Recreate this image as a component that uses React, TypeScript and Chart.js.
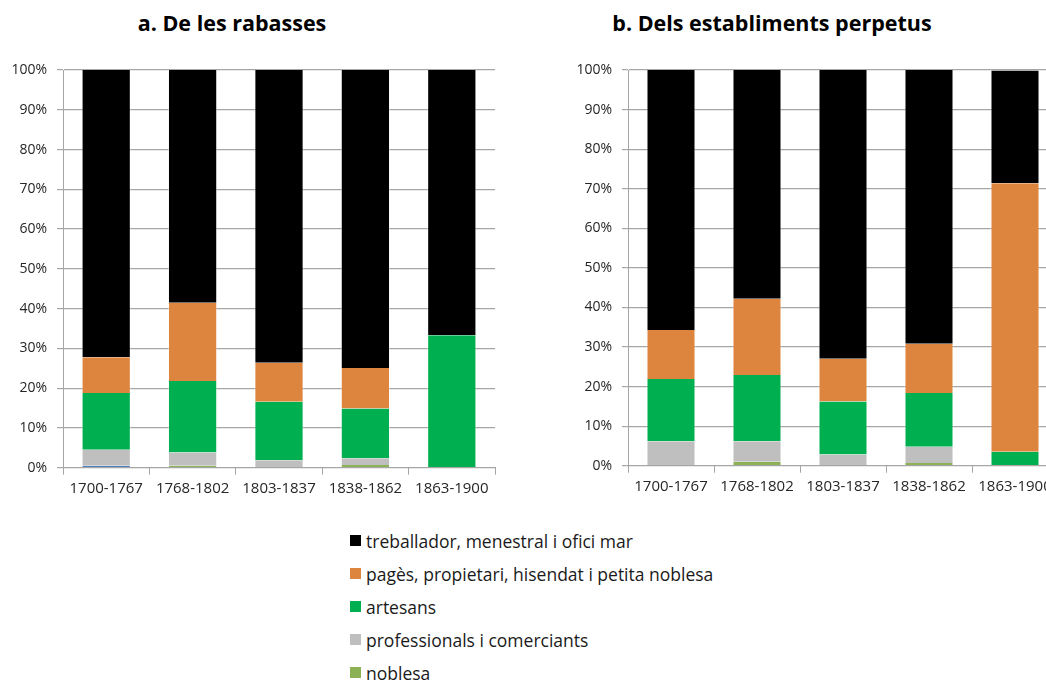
import React, { useEffect, useRef } from "react";
import { Chart, registerables } from "chart.js";
Chart.register(...registerables);

const categories = ["1700-1767", "1768-1802", "1803-1837", "1838-1862", "1863-1900"];

const seriesNames = [
  "treballador, menestral i ofici mar",
  "pagès, propietari, hisendat i petita noblesa",
  "artesans",
  "professionals i comerciants",
  "noblesa",
];
const seriesColors = ["#000000", "#DD843F", "#00AF50", "#BFBFBF", "#8DB255"];
const unnamedColor = "#4F81BD";

// a. De les rabasses (percent of each period)
const aUnnamed = [0.5, 0, 0, 0, 0];
const aNoblesa = [0, 0.5, 0, 0.7, 0];
const aProfessionals = [4.0, 3.3, 1.9, 1.7, 0];
const aArtesans = [14.3, 18.0, 14.7, 12.5, 33.3];
const aPages = [9.0, 19.7, 9.8, 10.2, 0];
const aTreballador = [72.2, 58.5, 73.6, 74.9, 66.7];

// b. Dels establiments perpetus
const bNoblesa = [0, 1.0, 0, 0.7, 0];
const bProfessionals = [6.2, 5.2, 2.8, 4.1, 0];
const bArtesans = [15.7, 16.7, 13.4, 13.6, 3.5];
const bPages = [12.4, 19.3, 10.8, 12.4, 67.9];
const bTreballador = [65.7, 57.8, 73.0, 69.2, 28.5];

const titleA = "a. De les rabasses";
const titleB = "b. Dels establiments perpetus";

const FONT = "'Open Sans', 'Noto Sans', sans-serif";

function ds(label: string, data: number[], color: string) {
  return {
    label,
    data,
    backgroundColor: color,
    borderColor: "rgba(255,255,255,0.4)",
    borderWidth: { left: 1, right: 1, top: 0, bottom: 0 },
    barPercentage: 0.57,
    categoryPercentage: 1,
  };
}

type Props = {
  left: number;
  width: number;
  axisWidth: number;
  bottomY: number;
  datasets: any[];
};

const TOP = 50;
const HEIGHT = 460;
const AREA_TOP = 70;

function StackChart({ left, width, axisWidth, bottomY, datasets }: Props) {
  const ref = useRef<HTMLCanvasElement>(null);
  useEffect(() => {
    if (!ref.current) return;
    const chart = new Chart(ref.current, {
      type: "bar",
      data: { labels: categories, datasets },
      options: {
        animation: false,
        responsive: false,
        devicePixelRatio: 1,
        layout: { padding: { top: AREA_TOP - TOP, left: 0, right: 5, bottom: 0 } },
        plugins: { legend: { display: false }, title: { display: false }, tooltip: { enabled: false } },
        scales: {
          x: {
            stacked: true,
            grid: { drawOnChartArea: false, drawTicks: true, tickLength: 7, color: "#a6a6a6", offset: true },
            border: { display: true, color: "#a6a6a6", width: 1 },
            ticks: { color: "#262626", font: { family: FONT, size: 15 }, padding: 5, maxRotation: 0, autoSkip: false },
            afterFit: (axis: any) => {
              axis.height = HEIGHT - (AREA_TOP - TOP) - (bottomY - AREA_TOP);
            },
          },
          y: {
            stacked: true,
            min: 0,
            max: 100,
            ticks: {
              stepSize: 10,
              color: "#262626",
              font: { family: FONT, size: 14 },
              padding: 10,
              callback: (v: any) => v + "%",
            },
            grid: { color: "#a6a6a6", lineWidth: 1.2, tickLength: 6, drawTicks: true },
            border: { display: true, color: "#a6a6a6", width: 1 },
            afterFit: (axis: any) => {
              axis.width = axisWidth;
            },
          },
        },
      },
    });
    return () => chart.destroy();
  }, []);
  return (
    <canvas
      ref={ref}
      width={width}
      height={HEIGHT}
      style={{ position: "absolute", left, top: TOP, width, height: HEIGHT }}
    />
  );
}

export default function App() {
  const datasetsA = [
    ds("", aUnnamed, unnamedColor),
    ds(seriesNames[4], aNoblesa, seriesColors[4]),
    ds(seriesNames[3], aProfessionals, seriesColors[3]),
    ds(seriesNames[2], aArtesans, seriesColors[2]),
    ds(seriesNames[1], aPages, seriesColors[1]),
    ds(seriesNames[0], aTreballador, seriesColors[0]),
  ];
  const datasetsB = [
    ds(seriesNames[4], bNoblesa, seriesColors[4]),
    ds(seriesNames[3], bProfessionals, seriesColors[3]),
    ds(seriesNames[2], bArtesans, seriesColors[2]),
    ds(seriesNames[1], bPages, seriesColors[1]),
    ds(seriesNames[0], bTreballador, seriesColors[0]),
  ];
  const titleStyle: React.CSSProperties = {
    position: "absolute",
    top: 8,
    fontFamily: FONT,
    fontWeight: 700,
    fontSize: 21.5,
    color: "#000",
    whiteSpace: "nowrap",
    transform: "translateX(-50%)",
    lineHeight: "30px",
  };
  return (
    <div
      style={{
        position: "absolute",
        left: 0,
        top: 0,
        width: 1046,
        height: 681,
        overflow: "hidden",
        background: "#fff",
      }}
    >
      <div style={{ ...titleStyle, left: 232 }}>{titleA}</div>
      <div style={{ ...titleStyle, left: 772 }}>{titleB}</div>
      <StackChart left={0} width={500} axisWidth={63} bottomY={467.7} datasets={datasetsA} />
      <StackChart left={564} width={499} axisWidth={64} bottomY={465.7} datasets={datasetsB} />
      <div style={{ position: "absolute", left: 350, top: 524, fontFamily: FONT, fontSize: 17.5, color: "#1a1a1a" }}>
        {seriesNames.map((name, i) => (
          <div key={name} style={{ display: "flex", alignItems: "center", height: 33, whiteSpace: "nowrap" }}>
            <span style={{ display: "inline-block", width: 11, height: 11, background: seriesColors[i], marginRight: 5 }} />
            <span>{name}</span>
          </div>
        ))}
      </div>
    </div>
  );
}
